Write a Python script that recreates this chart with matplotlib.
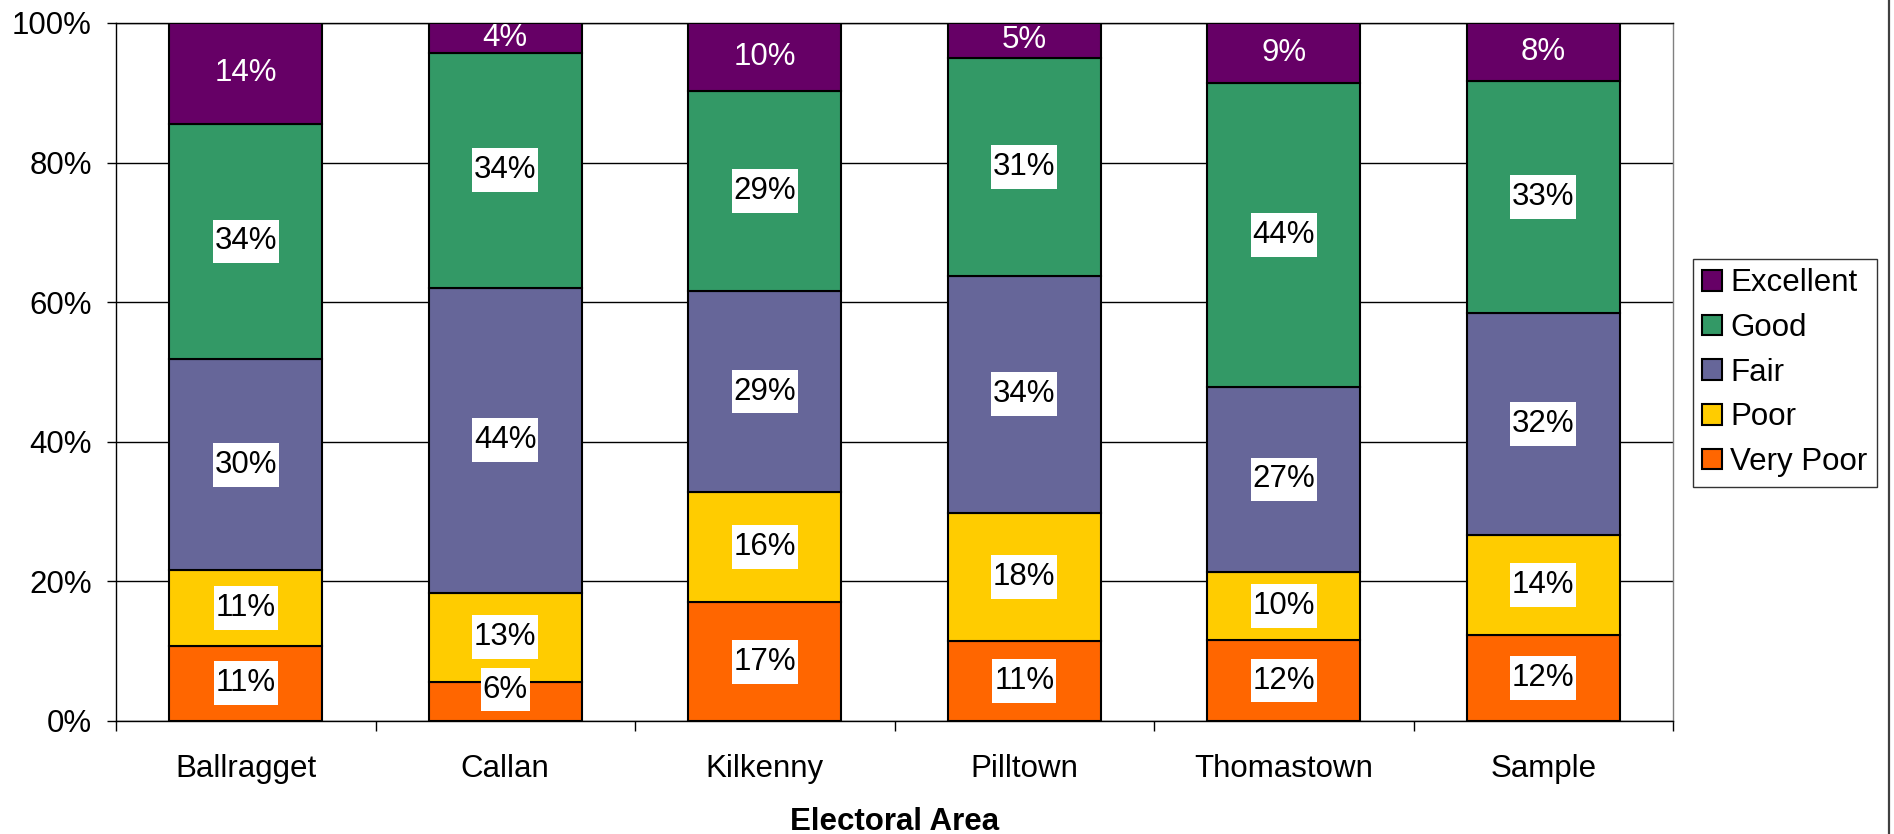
import matplotlib
matplotlib.use("Agg")
import matplotlib.pyplot as plt
from matplotlib.lines import Line2D
from matplotlib.path import Path
import numpy as np

categories = ["Ballragget", "Callan", "Kilkenny", "Pilltown", "Thomastown", "Sample"]
series_names = ["Very Poor", "Poor", "Fair", "Good", "Excellent"]
very_poor = [10.8, 5.6, 17.0, 11.4, 11.6, 12.3]
poor = [10.8, 12.8, 15.8, 18.4, 9.7, 14.3]
fair = [30.2, 43.7, 28.8, 34.0, 26.6, 31.9]
good = [33.8, 33.6, 28.7, 31.2, 43.5, 33.2]
excellent = [14.4, 4.3, 9.7, 5.0, 8.6, 8.3]
colors = ["#FF6600", "#FFCC00", "#666699", "#339966", "#660066"]
yticks = [0, 20, 40, 60, 80, 100]

plt.rcParams['font.family'] = ['Liberation Sans', 'DejaVu Sans']
FS = 22.5
MIN_LABEL_Y = 4.5  # keep boxed labels inside the plot area, as the original does


def label_box(x0, y0, width, height, mutation_size):
    px = 0.06 * mutation_size
    py = 0.22 * mutation_size
    return Path([(x0 - px, y0 - py), (x0 + width + px, y0 - py),
                 (x0 + width + px, y0 + height + py), (x0 - px, y0 + height + py),
                 (x0 - px, y0 - py)], closed=True)


fig = plt.figure(figsize=(18.94, 8.34), dpi=100)
ax = fig.add_axes([116/1894, 1-721/834, (1673-116)/1894, (721-23)/834])

x = np.arange(len(categories))
data = [very_poor, poor, fair, good, excellent]
bottom = np.zeros(len(categories))
handles = []
for name, vals, col in zip(series_names, data, colors):
    vals = np.array(vals)
    bars = ax.bar(x, vals, width=0.59, bottom=bottom, color=col,
                  edgecolor='black', linewidth=1.5, label=name, zorder=3)
    handles.append(bars)
    for xi, v, b in zip(x, vals, bottom):
        lab = f"{int(v + 0.5)}%"
        if name == "Excellent":
            ax.text(xi, b + v/2, lab, ha='center', va='center', fontsize=FS,
                    color='white', zorder=5)
        else:
            ax.text(xi, max(b + v/2, MIN_LABEL_Y), lab, ha='center', va='center',
                    fontsize=FS, color='black', zorder=5,
                    bbox=dict(boxstyle=label_box, fc='white', ec='none'))
    bottom = bottom + vals

ax.set_xlim(-0.5, len(categories) - 0.5)
ax.set_ylim(0, 100)
ax.set_yticks(yticks)
ax.set_yticklabels([f"{t}%" for t in yticks], fontsize=FS)
ax.yaxis.grid(True, color='black', linewidth=1.0, zorder=0)
ax.set_axisbelow(True)

ax.set_xticks(np.arange(-0.5, len(categories)), minor=False)
ax.set_xticklabels([""] * (len(categories) + 1))
ax.set_xticks(x, minor=True)
ax.set_xticklabels(categories, minor=True, fontsize=FS)
ax.tick_params(axis='x', which='major', length=7.5, width=1, direction='out', color='black')
ax.tick_params(axis='x', which='minor', length=0, pad=23.5)
ax.tick_params(axis='y', length=6.5, width=1, direction='out', pad=11)

for s in ['left', 'bottom', 'top']:
    ax.spines[s].set_color('black')
    ax.spines[s].set_linewidth(1.0)
ax.spines['right'].set_color('#808080')
ax.spines['right'].set_linewidth(1.0)

ax.set_xlabel("Electoral Area", fontsize=FS, fontweight='bold', labelpad=17)

leg = fig.legend(handles[::-1], series_names[::-1], loc='upper left',
                 bbox_to_anchor=(1693/1894, 1-259/834), borderaxespad=0,
                 fontsize=FS, frameon=True, fancybox=False, edgecolor='black',
                 handlelength=0.64, handleheight=0.64, handletextpad=0.25,
                 labelspacing=0.47, borderpad=0.3)
leg.get_frame().set_linewidth(1.0)
for h in leg.legend_handles:
    h.set_edgecolor('black')
    h.set_linewidth(1.5)

fig.add_artist(Line2D([1888.5/1894, 1888.5/1894], [0, 1], color='#404040',
                      linewidth=1.6, transform=fig.transFigure))

fig.savefig("out.png", dpi=100, facecolor='white')
